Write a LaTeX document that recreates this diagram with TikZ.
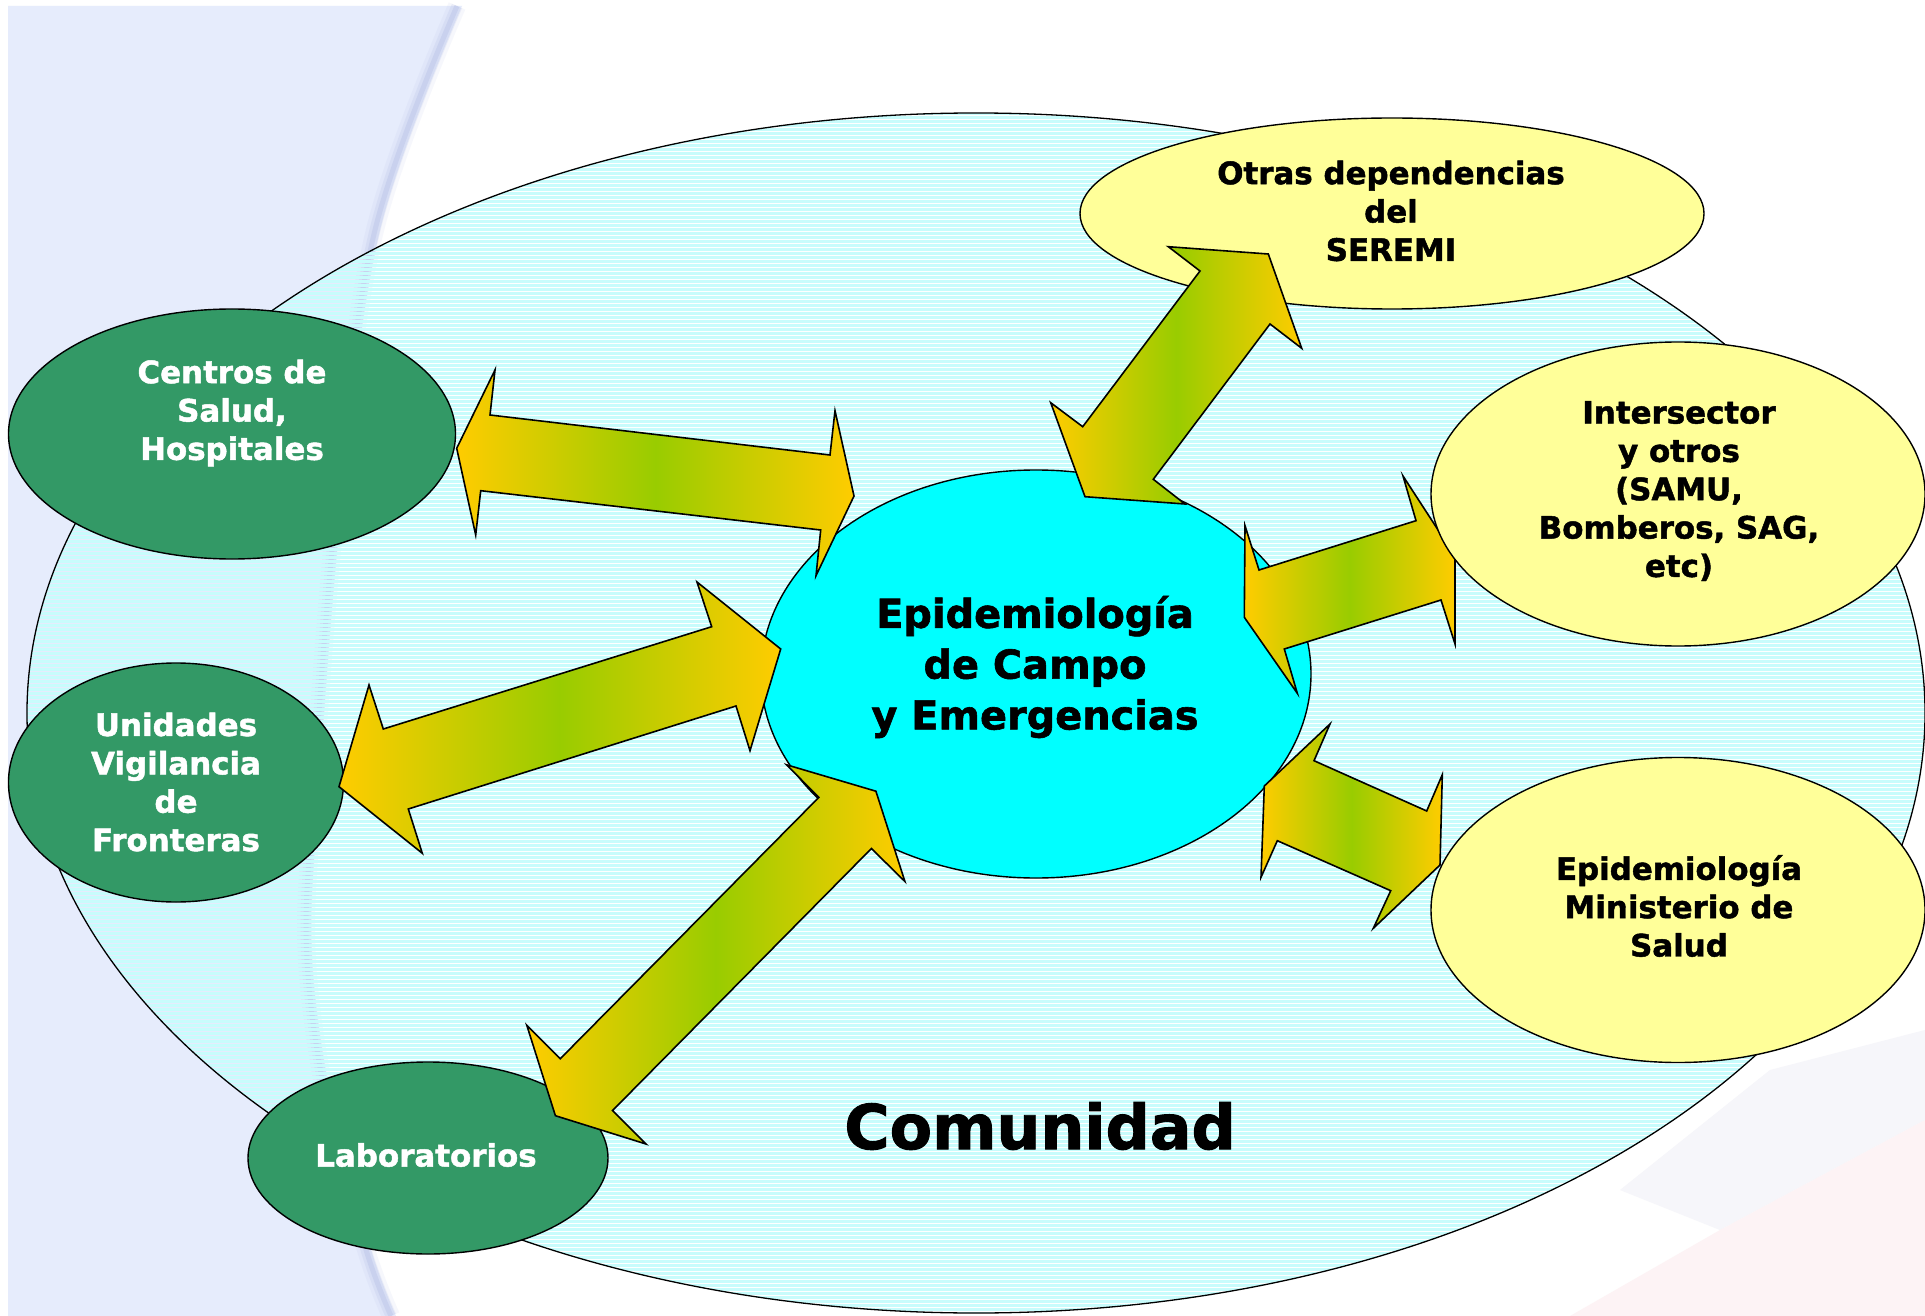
\documentclass[tikz,border=0pt]{standalone}
\usepackage{fontspec}
\setmainfont{DejaVu Sans}
\newfontfamily\heavy{DejaVu Sans Bold}[FakeBold=1.5]
\usetikzlibrary{shapes.geometric}
\definecolor{gfill}{HTML}{339966}
\definecolor{yfill}{HTML}{FFFF99}
\definecolor{cfill}{HTML}{00FFFF}
\definecolor{stripec}{HTML}{C8FCFC}
\definecolor{ay}{HTML}{FFCC00}
\definecolor{ag}{HTML}{99CC00}
\definecolor{lav}{HTML}{E6ECFC}
\definecolor{shad}{HTML}{AEB8E2}
\definecolor{pinkish}{HTML}{FDF3F5}
\definecolor{grayish}{HTML}{F6F6FA}
\begin{document}
\begin{tikzpicture}[x=1bp,y=-1bp,
  ell/.style={ellipse, draw=black, line width=1.4bp, inner sep=0pt},
  gell/.style={ell, fill=gfill},
  yell/.style={ell, fill=yfill},
  lbl/.style={align=center, font=\fontsize{31}{38.5}\selectfont\heavy, inner sep=0pt},
  wlbl/.style={lbl, text=white},
  dbl/.style={draw=black, line width=1.6bp, line join=miter, left color=ay, right color=ay, middle color=ag},
]
\useasboundingbox (0,0) rectangle (1925,1316);
\fill[white] (0,0) rectangle (1925,1316);
% left panel and swoosh
\fill[lav] (8,6) -- plot[smooth, tension=0.6] coordinates {(462,6) (380,230) (342,500) (318,800) (312,960) (335,1120) (372,1253) (396,1316)} -- (8,1316) -- cycle;
\foreach \w/\o in {18/0.1, 11/0.18, 5/0.32}
  \draw[shad, line width=\w bp, opacity=\o, xshift=-5bp] plot[smooth, tension=0.6] coordinates {(462,6) (380,230) (342,500) (318,800) (312,960) (335,1120) (372,1253) (396,1316)};
% faint decoration bottom right
\fill[grayish] (1620,1190) -- (1770,1070) -- (1925,1030) -- (1925,1120) -- (1720,1230) -- cycle;
\fill[pinkish] (1570,1316) -- (1720,1230) -- (1925,1120) -- (1925,1316) -- cycle;
% community ellipse
\node[ellipse, inner sep=0pt, minimum width=1898bp, minimum height=1200bp] (comm) at (976,713) {};
\begin{scope}
  \clip (976,713) ellipse [x radius=949bp, y radius=600bp];
  \foreach \yy in {113,117,...,1317}
    \draw[stripec, line width=3bp] (20,\yy+0.5) -- (1925,\yy+0.5);
\end{scope}
\draw[black, line width=1.3bp] (976,713) ellipse [x radius=949bp, y radius=600bp];
% central ellipse
\node[ell, fill=cfill, minimum width=550bp, minimum height=408bp] (epi) at (1036,674) {};
% outer ellipses
\node[gell, minimum width=447bp, minimum height=250bp] (centros) at (232,434) {};
\node[gell, minimum width=335bp, minimum height=239bp] (unidades) at (176,782.5) {};
\node[gell, minimum width=360bp, minimum height=192bp] (lab) at (428,1158) {};
\node[yell, minimum width=624bp, minimum height=191bp] (otras) at (1392,213.5) {};
\node[yell, minimum width=494bp, minimum height=305bp] (minis) at (1678,910) {};
% double arrows
\path[dbl] (456.7,448.3) -- (495,370) -- (490,415) -- (830,455) -- (835,410.7) -- (854,496) -- (816,575.7) -- (820.7,530) -- (480.7,490.7) -- (475.7,535) -- cycle;
\path[dbl] (339,786.7) -- (369,685) -- (383.3,729) -- (711.7,626.7) -- (697,582) -- (780.7,649) -- (750,750.7) -- (736,706) -- (408.3,809) -- (422.3,853.3) -- cycle;
\path[dbl] (1168.3,246.7) -- (1268.3,254) -- (1301.7,348.3) -- (1270,324) -- (1153.3,479.3) -- (1185,504) -- (1085,496.7) -- (1050.7,402.7) -- (1082.7,426.7) -- (1200,271) -- cycle;
\path[dbl] (1403,476) -- (1455,556) -- (1455,644) -- (1441,600) -- (1284.3,649) -- (1297.3,693.3) -- (1244.3,617.3) -- (1245,525.7) -- (1259,570) -- (1416,520.7) -- cycle;
\path[dbl] (1330,724) -- (1314,760.7) -- (1426.7,811) -- (1442.3,774.7) -- (1440,865) -- (1373.3,928.3) -- (1390.7,890.7) -- (1277.3,840.7) -- (1261,877.3) -- (1264.3,786) -- cycle;
\path[dbl] (786.6,764.8) -- (875.9,791.2) -- (904.9,881.5) -- (871.4,848.5) -- (612.5,1110.6) -- (646,1144) -- (555.4,1115.7) -- (526.8,1025.3) -- (560.3,1058.7) -- (818.8,797.4) -- cycle;
% intersector ellipse drawn above its arrow
\node[yell, minimum width=494bp, minimum height=304bp] (inter) at (1678,494) {};
% texts
\node[wlbl] (centrosT) at (232,413) {Centros de\\Salud,\\Hospitales};
\node[wlbl] (unidadesT) at (176,782) {Unidades\\Vigilancia\\de\\Fronteras};
\node[wlbl] (labT) at (426,1155) {Laboratorios};
\node[lbl] (otrasT) at (1391,211) {Otras dependencias\\del\\SEREMI};
\node[lbl] (interT) at (1679,491) {Intersector\\y otros\\(SAMU,\\Bomberos, SAG,\\etc)};
\node[lbl] (minisT) at (1679,906) {Epidemiología\\Ministerio de\\Salud};
\node[align=center, inner sep=0pt, font=\fontsize{40}{51}\selectfont\heavy] (epiT) at (1035,667) {Epidemiología\\de Campo\\y Emergencias};
\node[inner sep=0pt, font=\fontsize{62}{70}\selectfont\heavy] (commT) at (1040,1126) {Comunidad};
\end{tikzpicture}
\end{document}
